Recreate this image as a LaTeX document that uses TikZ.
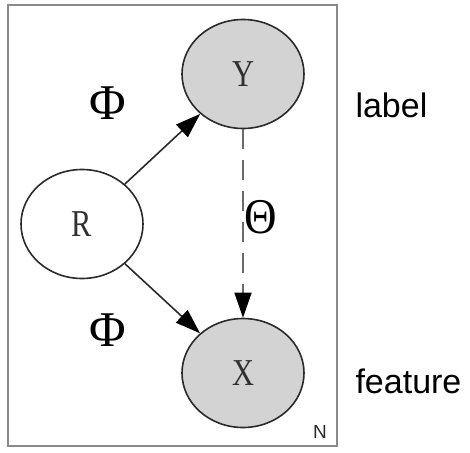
\documentclass[tikz,border=0pt]{standalone}
\usepackage{fontspec}
\newfontfamily\arialfont{Liberation Sans}
\newfontfamily\seriffont{Liberation Serif}
\usetikzlibrary{arrows.meta,shapes.geometric}
\definecolor{obsfill}{HTML}{D3D3D3}
\definecolor{plateline}{HTML}{8A8A8A}
\definecolor{nodeline}{HTML}{2A2A2A}
\definecolor{nodetext}{HTML}{303030}
\definecolor{dashline}{HTML}{6A6A6A}
\begin{document}
\begin{tikzpicture}[x=1pt,y=-1pt,
  var/.style={draw=nodeline,line width=1.6pt,ellipse,minimum width=122pt,minimum height=109pt,inner sep=0pt,
    font=\seriffont\fontsize{38}{38}\selectfont,text=nodetext},
  obs/.style={var,fill=obsfill},
  edge/.style={line width=1.6pt,draw=nodeline,-{Triangle[length=25pt,width=17pt,color=black]}},
  greek/.style={font=\seriffont\fontsize{50}{50}\selectfont},
  side/.style={font=\arialfont\fontsize{34}{34}\selectfont,anchor=base west},
]
\useasboundingbox (0,0) rectangle (470,452);
% plate
\draw[plateline,line width=2pt] (8,5) rectangle (337,446);
\node[font=\arialfont\fontsize{19}{19}\selectfont,text=nodeline] (n) at (320,432) {N};
% variables
\node[obs] (Y) at (243,74) {\scalebox{0.8}[1]{Y}};
\node[var] (R) at (82,224) {\scalebox{0.8}[1]{R}};
\node[obs] (X) at (243,373) {\scalebox{0.8}[1]{X}};
% edges
\draw[edge] (R) -- (Y);
\draw[edge] (R) -- (X);
\draw[edge,draw=dashline,dash pattern=on 20pt off 11pt] (Y) -- (X);
% parameter labels
\node[greek] (phi1) at (108,103) {Φ};
\node[greek] (phi2) at (108,330) {Φ};
\node[greek,fill=white,inner sep=1pt] (theta) at (261,217) {\scalebox{0.9}[1]{Θ}};
% side labels
\node[side] (lab) at (352,117) {label};
\node[side] (feat) at (352,393) {feature};
\end{tikzpicture}
\end{document}
